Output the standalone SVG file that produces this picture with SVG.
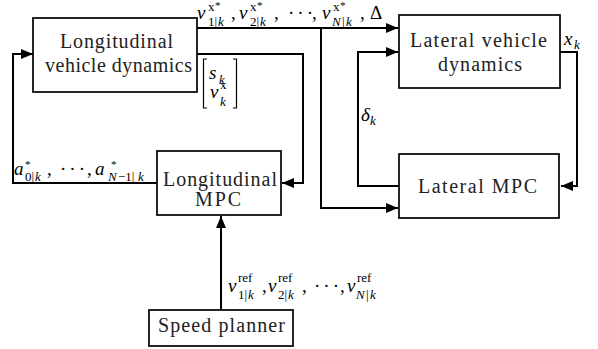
<svg xmlns="http://www.w3.org/2000/svg" width="598" height="349" viewBox="0 0 598 349">
<defs>
<marker id="ah" markerUnits="userSpaceOnUse" markerWidth="13" markerHeight="12" refX="12" refY="5" orient="auto">
<path d="M0,0 L12,5 L0,10 z" fill="#000"/>
</marker>
<style>
.box{fill:#fff;stroke:#000;stroke-width:1.7}
.lbl{font-size:20px;fill:#222}
.w{fill:none;stroke:#000;stroke-width:2}
.m{font-style:italic;font-size:19px;fill:#000}
.s{font-size:13px}
.u{font-style:normal}
.st{font-size:11px;font-style:normal}
.d{font-style:normal;letter-spacing:3px}
</style>
</defs>
<rect width="598" height="349" fill="#fff"/>
<g id="connectors">
<path class="w" d="M197,28 H398" marker-end="url(#ah)"/>
<path class="w" d="M321,28 V208 H398" marker-end="url(#ah)"/>
<path class="w" d="M197,54 H303 V183 H282" marker-end="url(#ah)"/>
<path class="w" d="M157,183 H13 V54 H33" marker-end="url(#ah)"/>
<path class="w" d="M221,310 V216" marker-end="url(#ah)"/>
<path class="w" d="M399,186 H358 V52 H398" marker-end="url(#ah)"/>
<path class="w" d="M560,52 H577 V186 H561" marker-end="url(#ah)"/>
</g>
<g id="long-dyn">
<rect class="box" x="33" y="18" width="164" height="74"/>
<text class="lbl" font-family="Liberation Serif" x="60" y="48" textLength="113">Longitudinal</text>
<text class="lbl" font-family="Liberation Serif" x="45" y="72" textLength="147">vehicle dynamics</text>
</g>
<g id="lat-dyn">
<rect class="box" x="399" y="15" width="161" height="73"/>
<text class="lbl" font-family="Liberation Serif" x="410" y="47" textLength="137">Lateral vehicle</text>
<text class="lbl" font-family="Liberation Serif" x="438" y="71" textLength="84">dynamics</text>
</g>
<g id="long-mpc">
<rect class="box" x="157" y="151" width="124" height="64"/>
<text class="lbl" font-family="Liberation Serif" x="163" y="186" textLength="114">Longitudinal</text>
<text class="lbl" font-family="Liberation Serif" x="195" y="206" textLength="46">MPC</text>
</g>
<g id="lat-mpc">
<rect class="box" x="399" y="154" width="160" height="64"/>
<text class="lbl" font-family="Liberation Serif" x="418" y="193" textLength="119">Lateral MPC</text>
</g>
<g id="speed-planner">
<rect class="box" x="149" y="310" width="144" height="36"/>
<text class="lbl" font-family="Liberation Serif" x="158" y="332" textLength="127">Speed planner</text>
</g>
<g id="labels" font-family="Liberation Serif">
<text class="m">
<tspan x="197" y="19">v</tspan><tspan class="s u" x="208" y="11">x</tspan><tspan class="st" x="215" y="9">*</tspan><tspan class="s u" x="208" y="26">1|</tspan><tspan class="s" x="218" y="26">k</tspan><tspan class="u" x="231" y="19">,</tspan>
<tspan x="239" y="19">v</tspan><tspan class="s u" x="250" y="11">x</tspan><tspan class="st" x="257" y="9">*</tspan><tspan class="s u" x="250" y="26">2|</tspan><tspan class="s" x="260" y="26">k</tspan><tspan class="u" x="274" y="19">,</tspan>
<tspan class="d" x="288" y="19">···</tspan><tspan class="u" x="312" y="19">,</tspan>
<tspan x="322" y="19">v</tspan><tspan class="s u" x="333" y="11">x</tspan><tspan class="st" x="340" y="9">*</tspan><tspan class="s" x="332" y="26">N</tspan><tspan class="s u" x="342" y="26">|</tspan><tspan class="s" x="346" y="26">k</tspan><tspan class="u" x="360" y="19">,</tspan>
<tspan class="u" x="370" y="19">Δ</tspan>
</text>
<path class="w" style="stroke-width:1.2" d="M207,59 H203.5 V108 H207 M233,59 H236.5 V108 H233"/>
<text class="m"><tspan x="209" y="79">s</tspan><tspan class="s" x="219" y="84">k</tspan></text>
<text class="m"><tspan x="210" y="98">v</tspan><tspan class="s u" x="220" y="89">x</tspan><tspan class="s" x="220" y="106">k</tspan></text>
<text class="m">
<tspan x="14" y="175">a</tspan><tspan class="st" x="25" y="168">*</tspan><tspan class="s u" x="25" y="181">0|</tspan><tspan class="s" x="35" y="181">k</tspan><tspan class="u" x="47" y="175">,</tspan>
<tspan class="d" x="60" y="175">···</tspan><tspan class="u" x="87" y="175">,</tspan>
<tspan x="95" y="175">a</tspan><tspan class="st" x="111" y="168">*</tspan><tspan class="s" x="108" y="181">N</tspan><tspan class="s u" x="118" y="181">−1|</tspan><tspan class="s" x="138" y="181">k</tspan>
</text>
<text class="m">
<tspan x="228" y="292">v</tspan><tspan class="s u" x="238" y="282">ref</tspan><tspan class="s u" x="238" y="299">1|</tspan><tspan class="s" x="248" y="299">k</tspan><tspan class="u" x="262" y="292">,</tspan>
<tspan x="268" y="292">v</tspan><tspan class="s u" x="278" y="282">ref</tspan><tspan class="s u" x="278" y="299">2|</tspan><tspan class="s" x="288" y="299">k</tspan><tspan class="u" x="302" y="292">,</tspan>
<tspan class="d" x="314" y="292">···</tspan><tspan class="u" x="340" y="292">,</tspan>
<tspan x="347" y="292">v</tspan><tspan class="s u" x="357" y="282">ref</tspan><tspan class="s" x="356" y="299">N</tspan><tspan class="s u" x="366" y="299">|</tspan><tspan class="s" x="370" y="299">k</tspan>
</text>
<text class="m"><tspan x="564" y="45">x</tspan><tspan class="s" x="574" y="49">k</tspan></text>
<text class="m"><tspan x="361" y="121">δ</tspan><tspan class="s" x="370" y="125">k</tspan></text>
</g>
</svg>
